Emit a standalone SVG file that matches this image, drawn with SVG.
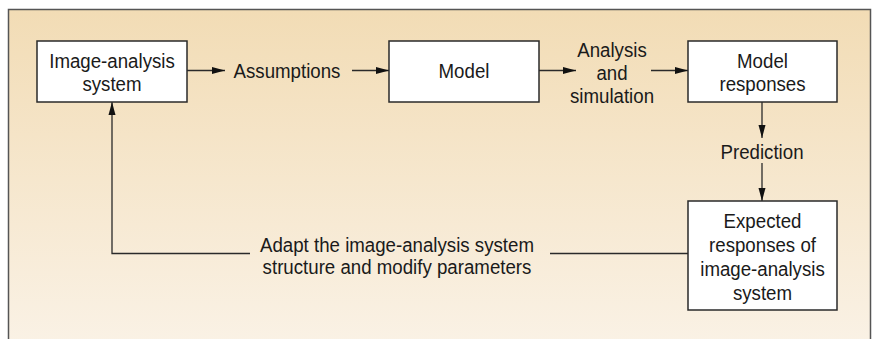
<svg xmlns="http://www.w3.org/2000/svg" width="875" height="339" viewBox="0 0 875 339">
<style>
.box{fill:#fff;stroke:#2a2a2a;stroke-width:1.5}
.t{font-family:"Liberation Sans",Arial,sans-serif;font-size:21px;fill:#1a1a1a;text-anchor:middle}
.c{fill:none;stroke:#2a2a2a;stroke-width:1.3}
</style>
<defs>
<linearGradient id="bg" x1="0" y1="0" x2="0" y2="1">
<stop offset="0" stop-color="#f2dcb5"/>
<stop offset="1" stop-color="#faf2e6"/>
</linearGradient>
<marker id="ah" markerUnits="userSpaceOnUse" markerWidth="14" markerHeight="8" refX="13" refY="4" orient="auto">
<path d="M0,0.5 L13,4 L0,7.5 z" fill="#111"/>
</marker>
</defs>
<rect x="0" y="0" width="875" height="339" fill="#fff"/>
<rect x="8.5" y="9.5" width="862" height="340" fill="url(#bg)" stroke="#555" stroke-width="1.5"/>
<g id="connectors">
<line class="c" x1="187" y1="70.5" x2="225" y2="70.5" marker-end="url(#ah)"/>
<line class="c" x1="352" y1="70.5" x2="389" y2="70.5" marker-end="url(#ah)"/>
<line class="c" x1="539" y1="70.5" x2="576" y2="70.5" marker-end="url(#ah)"/>
<line class="c" x1="651" y1="70.5" x2="688" y2="70.5" marker-end="url(#ah)"/>
<line class="c" x1="762" y1="102" x2="762" y2="138" marker-end="url(#ah)"/>
<line class="c" x1="762" y1="163" x2="762" y2="201" marker-end="url(#ah)"/>
<line class="c" x1="688" y1="253.5" x2="550" y2="253.5"/>
<polyline class="c" points="250,253.5 112,253.5 112,102" marker-end="url(#ah)"/>
<text class="t" transform="translate(287 78) scale(0.89 1)" x="0" y="0">Assumptions</text>
<text class="t" transform="translate(612 57) scale(0.89 1)" x="0" y="0"><tspan x="0" y="0">Analysis</tspan><tspan x="0" y="23">and</tspan><tspan x="0" y="46">simulation</tspan></text>
<text class="t" transform="translate(762 159) scale(0.89 1)" x="0" y="0">Prediction</text>
<text class="t" transform="translate(397 252) scale(0.89 1)" x="0" y="0"><tspan x="0" y="0">Adapt the image-analysis system</tspan><tspan x="0" y="22">structure and modify parameters</tspan></text>
</g>
<g id="image-analysis-system">
<rect class="box" x="37" y="41" width="150" height="61"/>
<text class="t" transform="translate(112 67.5) scale(0.89 1)"><tspan x="0" y="0">Image-analysis</tspan><tspan x="0" y="24">system</tspan></text>
</g>
<g id="model">
<rect class="box" x="389" y="41" width="150" height="61"/>
<text class="t" transform="translate(464 78) scale(0.89 1)" x="0" y="0">Model</text>
</g>
<g id="model-responses">
<rect class="box" x="688" y="41" width="149" height="61"/>
<text class="t" transform="translate(762.5 67.5) scale(0.89 1)"><tspan x="0" y="0">Model</tspan><tspan x="0" y="24">responses</tspan></text>
</g>
<g id="expected-responses">
<rect class="box" x="688" y="201" width="149" height="109"/>
<text class="t" transform="translate(762.5 228) scale(0.89 1)"><tspan x="0" y="0">Expected</tspan><tspan x="0" y="24">responses of</tspan><tspan x="0" y="48">image-analysis</tspan><tspan x="0" y="72">system</tspan></text>
</g>
</svg>
